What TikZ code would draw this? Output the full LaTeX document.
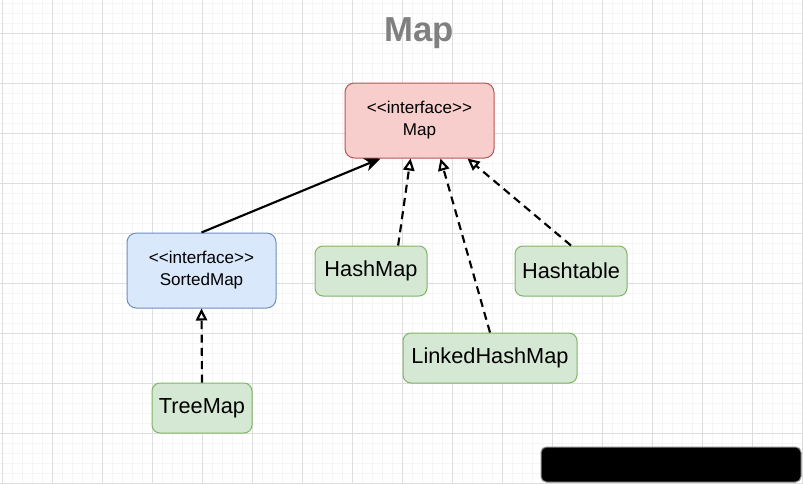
\documentclass[tikz,border=0pt]{standalone}
\usepackage{fontspec}
\setmainfont{Liberation Sans}
\usetikzlibrary{arrows.meta,positioning,calc}

\definecolor{redfill}{HTML}{F8CECC}
\definecolor{redline}{HTML}{B85450}
\definecolor{bluefill}{HTML}{DAE8FC}
\definecolor{blueline}{HTML}{6C8EBF}
\definecolor{greenfill}{HTML}{D5E8D4}
\definecolor{greenline}{HTML}{82B366}
\definecolor{titlegray}{HTML}{808080}

\begin{document}
\begin{tikzpicture}[
    x=0.75pt, y=-0.75pt,
    iface/.style={draw, rounded corners=7pt, line width=0.75pt, minimum width=111.75pt, minimum height=56.25pt, align=center, font=\fontsize{12.8}{16.5}\selectfont},
    cls/.style={draw=greenline, fill=greenfill, rounded corners=6pt, line width=0.75pt, minimum height=37.5pt, font=\fontsize{16.3}{19}\selectfont},
    arr/.style={-{Stealth[length=12pt, width=10pt, inset=3.5pt]}, line width=1.6pt},
    impl/.style={-{Triangle[open, length=9pt, width=8.5pt]}, line width=1.6pt, dash pattern=on 6pt off 4pt},
    minorgrid/.style={draw=black!4, line width=0.5pt},
    majorgrid/.style={draw=black!13, line width=0.6pt}
]
\useasboundingbox (0,0) rectangle (803,483);
\fill[white] (0,0) rectangle (803,483);

% background grid
\foreach \x in {2,12,...,802} \draw[minorgrid] (\x,0) -- (\x,483);
\foreach \y in {3,13,...,483} \draw[minorgrid] (0,\y) -- (803,\y);
\foreach \x in {2,52,...,802} \draw[majorgrid] (\x,0) -- (\x,483);
\foreach \y in {33,83,...,483} \draw[majorgrid] (0,\y) -- (803,\y);

\node[font=\fontsize{26}{30}\selectfont\bfseries, text=titlegray] (title) at (419,33) {Map};

\node[iface, draw=redline, fill=redfill] (map) at (419.5,120.5) {{<}{<}interface{>}{>}\\Map};
\node[iface, draw=blueline, fill=bluefill] (sorted) at (201.5,270.5) {{<}{<}interface{>}{>}\\SortedMap};
\node[cls, minimum width=84pt] (hashmap) at (371,271) {HashMap};
\node[cls, minimum width=84pt] (hashtable) at (571,271) {Hashtable};
\node[cls, minimum width=130.5pt] (linked) at (490,358) {LinkedHashMap};
\node[cls, minimum width=75pt] (treemap) at (202,408) {TreeMap};

\node[fill=black, draw=black!45, line width=0.75pt, rounded corners=4pt, minimum width=195pt, minimum height=26.25pt] (bar) at (671,464.5) {};

\draw[arr] (sorted.north) -- ($(map.south west)!0.24!(map.south east)$);
\draw[impl] ($(hashmap.north west)!0.74!(hashmap.north east)$) -- ($(map.south west)!0.44!(map.south east)$);
\draw[impl] (linked.north) -- ($(map.south west)!0.64!(map.south east)$);
\draw[impl] (hashtable.north) -- ($(map.south west)!0.82!(map.south east)$);
\draw[impl] (treemap.north) -- (sorted.south);
\end{tikzpicture}
\end{document}
